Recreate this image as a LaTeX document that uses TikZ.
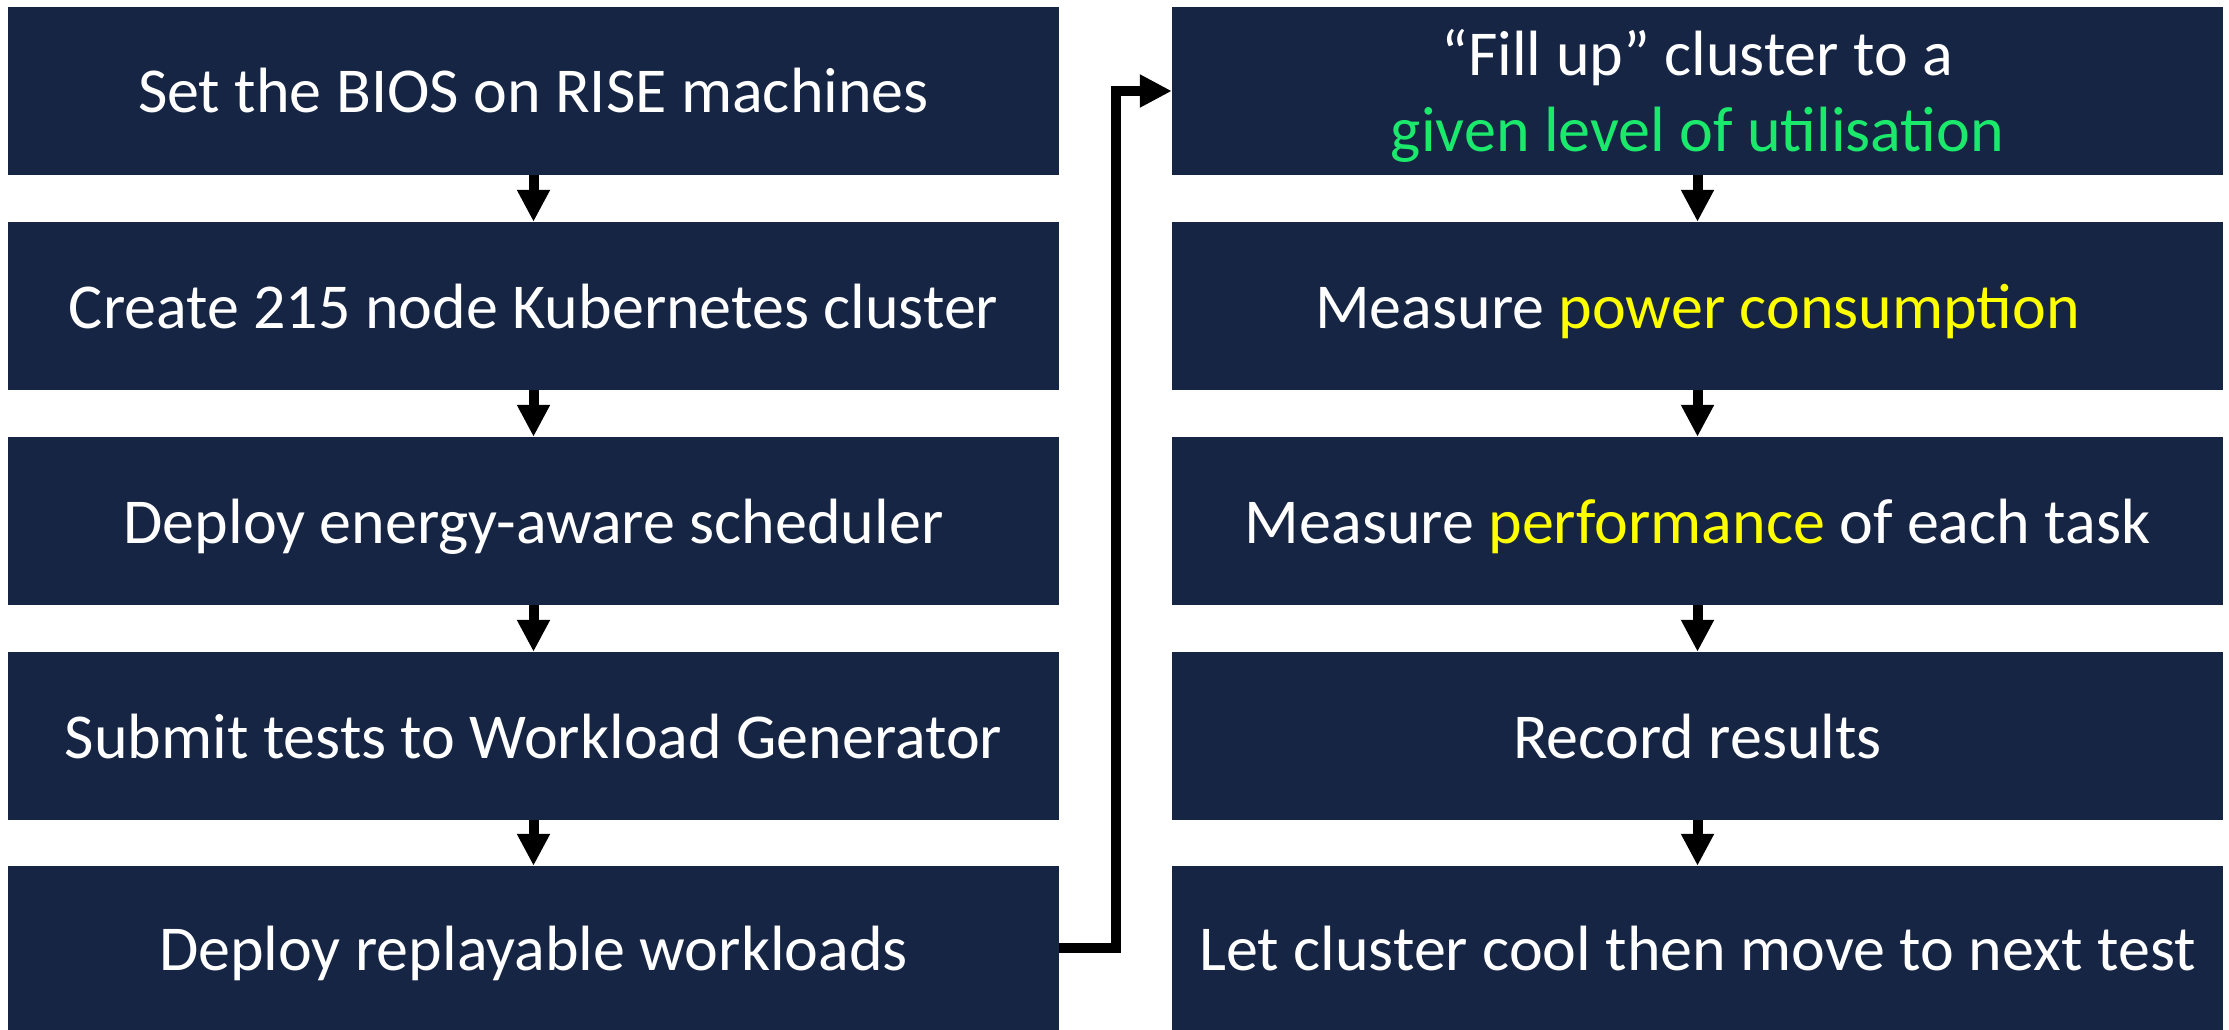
\documentclass[tikz,border=0pt]{standalone}
\usepackage{fontspec}
\setmainfont{Carlito}
\usetikzlibrary{arrows.meta}
\definecolor{navy}{HTML}{172545}
\definecolor{hlgreen}{HTML}{1BE96C}
\definecolor{hlyellow}{HTML}{FFFF00}
\begin{document}
\begin{tikzpicture}[x=1pt,y=-1pt,
  stepfont/.style={font=\fontsize{64}{75}\selectfont},
  stepbox/.style={rectangle, fill=navy, text=white, inner sep=0pt,
    minimum width=1051pt, minimum height=168pt, align=center,
    text height=44pt, text depth=0pt, stepfont},
  linetext/.style={anchor=base, inner sep=0pt, text=white, stepfont},
  flow/.style={line width=10pt, -{Triangle[width=31pt,length=32pt]}, line join=miter}
]
\useasboundingbox (0,0) rectangle (2229,1030);
\node[stepbox] (L1) at (533.5,91) {Set the BIOS on RISE machines};
\node[stepbox] (L2) at (533.5,306) {Create 215 node Kubernetes cluster};
\node[stepbox] (L3) at (533.5,521) {Deploy energy-aware scheduler};
\node[stepbox] (L4) at (533.5,736) {Submit tests to Workload Generator};
\node[stepbox, minimum height=164pt] (L5) at (533.5,948) {Deploy replayable workloads};
\node[stepbox] (R1) at (1697.5,91) {};
\node[linetext] (R1a) at (1697.5,76) {“Fill up” cluster to a};
\node[linetext, text=hlgreen] (R1b) at (1697.5,151) {given level of utilisation};
\node[stepbox] (R2) at (1697.5,306) {Measure \textcolor{hlyellow}{power consumption}};
\node[stepbox] (R3) at (1697.5,521) {Measure \textcolor{hlyellow}{performance} of each task};
\node[stepbox] (R4) at (1697.5,736) {Record results};
\node[stepbox, minimum height=164pt] (R5) at (1697.5,948) {Let cluster cool then move to next test};
\draw[flow] (L1) -- (L2);
\draw[flow] (L2) -- (L3);
\draw[flow] (L3) -- (L4);
\draw[flow] (L4) -- (L5);
\draw[flow] (R1) -- (R2);
\draw[flow] (R2) -- (R3);
\draw[flow] (R3) -- (R4);
\draw[flow] (R4) -- (R5);
\coordinate (elbow) at (1116,500);
\draw[flow] (L5.east) -| (elbow) |- (R1.west);
\end{tikzpicture}
\end{document}
